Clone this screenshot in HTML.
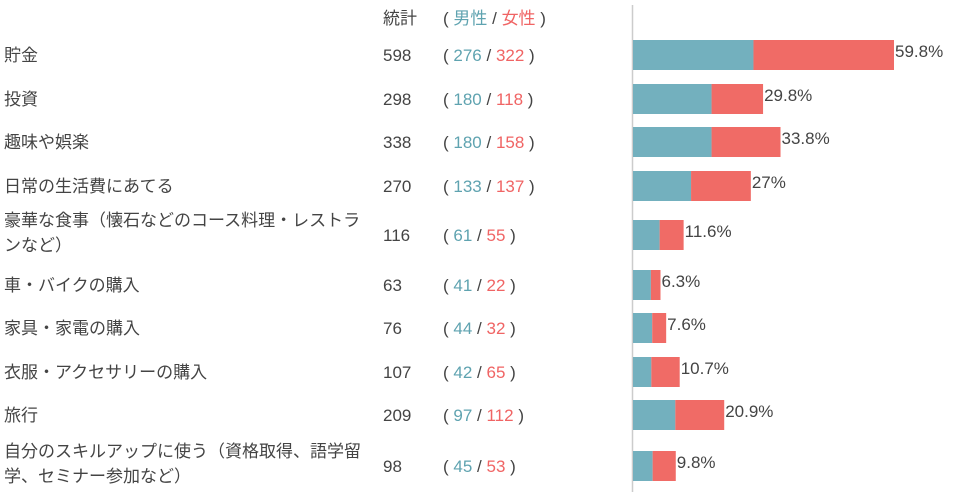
<!DOCTYPE html>
<html><head><meta charset="utf-8"><style>
body{margin:0;background:#fff;}
svg{display:block;font-family:"Liberation Sans","Noto Sans CJK JP",sans-serif;}
</style></head><body>
<svg id="chart" width="958" height="497" viewBox="0 0 958 497">
<g id="hdr" font-size="17">
<text x="383" y="24" fill="#444">統計</text>
<text x="443" y="24" fill="#444">( <tspan fill="#5fa3b0">男性</tspan> / <tspan fill="#f06464">女性</tspan> )</text>
</g>
<line x1="632.5" y1="5" x2="632.5" y2="492" stroke="#ccc" stroke-width="1.5"/>
<g id="rows"></g>
</svg>
<script>
const categories=[["貯金"],["投資"],["趣味や娯楽"],["日常の生活費にあてる"],["豪華な食事（懐石などのコース料理・レストラ","ンなど）"],["車・バイクの購入"],["家具・家電の購入"],["衣服・アクセサリーの購入"],["旅行"],["自分のスキルアップに使う（資格取得、語学留","学、セミナー参加など）"]];
const totals=[598,298,338,270,116,63,76,107,209,98];
const male=[276,180,180,133,61,41,44,42,97,45];
const female=[322,118,158,137,55,22,32,65,112,53];
const pctLabels=["59.8%","29.8%","33.8%","27%","11.6%","6.3%","7.6%","10.7%","20.9%","9.8%"];
const barTops=[40,84,127,171,220,270,313,357,400,451];
const NS="http://www.w3.org/2000/svg";
const x0=633, scale=261/598;
const xs=v=>v*scale;
const g=document.getElementById('rows');
function mk(tag,attrs,txt){const e=document.createElementNS(NS,tag);for(const k in attrs)e.setAttribute(k,attrs[k]);if(txt!=null)e.textContent=txt;g.appendChild(e);return e;}
categories.forEach((c,i)=>{
  const t=barTops[i], mid=t+15;
  const multi=c.length>1;
  c.forEach((line,j)=>{
    const y=multi?(t+6+j*25):(mid+6);
    const el=mk('text',{x:4,y:y,'font-size':17,fill:'#444'},line);
    
    
  });
  const tt=mk('text',{x:383,y:mid+6,'font-size':17,fill:'#444'},String(totals[i]));
  
  
  const gt=mk('text',{x:443,y:mid+6,'font-size':17,fill:'#444'});
  gt.innerHTML='( <tspan fill="#5fa3b0">'+male[i]+'</tspan> / <tspan fill="#f06464">'+female[i]+'</tspan> )';
  
  
  const mw=xs(male[i]), fw=xs(female[i]);
  const bm=mk('rect',{x:x0,y:t,width:mw,height:30,fill:'#73b0be'});
  
  
  const bf=mk('rect',{x:x0+mw,y:t,width:fw,height:30,fill:'#f06b66'});
  
  
  const pl=mk('text',{x:x0+mw+fw+1,y:t+17,'font-size':17,fill:'#444'},pctLabels[i]);
  
  
});
</script>
</body></html>
